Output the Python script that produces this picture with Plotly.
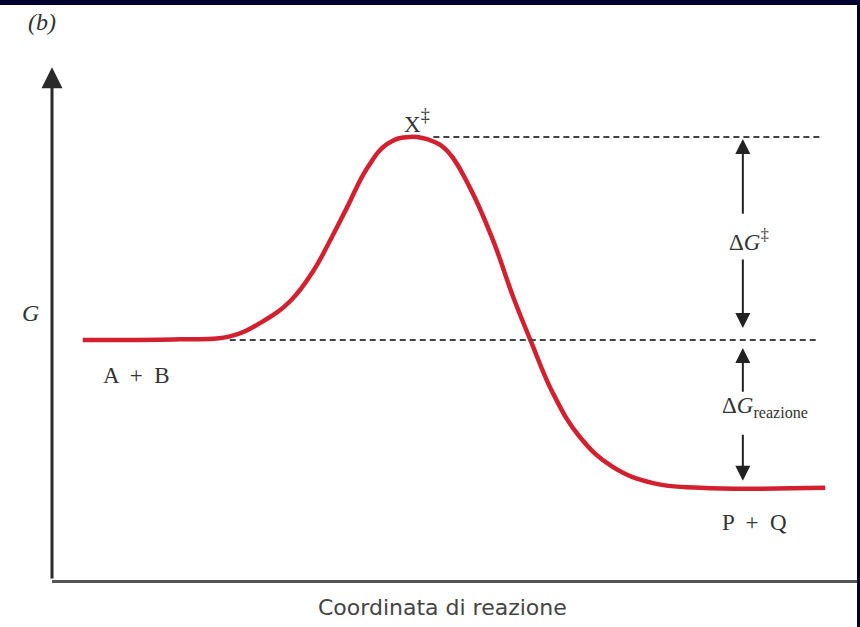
import plotly.graph_objects as go

# Free-energy profile along the reaction coordinate (arbitrary units)
reaction_coord = [0.38, 1.58, 2.20, 2.61, 2.95, 3.23, 3.44, 3.65, 3.90, 4.15, 4.43,
                  4.72, 4.89, 5.17, 5.46, 5.71, 5.92, 6.20, 6.53, 6.94, 7.44, 8.02, 9.57]
free_energy = [4.14, 4.15, 4.20, 4.46, 4.81, 5.32, 5.85, 6.42, 7.10, 7.52, 7.64,
               7.56, 7.40, 6.77, 5.85, 4.87, 4.14, 3.22, 2.47, 1.95, 1.67, 1.59, 1.59]

# Reference levels
G_reactants = 4.14
G_transition = 7.64
G_products = 1.59

# Horizontal extent of the guide lines and the position of the ΔG arrows
guide_top_x = [4.72, 9.50]
guide_mid_x = [2.20, 9.50]
arrow_x = 8.55
y_axis_top = 8.84

RED = "#d3202e"
INK = "#333333"
NAVY = "#01012f"
SERIF = "Liberation Serif, Times New Roman, serif"

fig = go.Figure()

fig.add_trace(go.Scatter(
    x=reaction_coord, y=free_energy, mode="lines",
    line=dict(color=RED, width=4.5, shape="spline", smoothing=1.2),
    hoverinfo="skip", showlegend=False,
))

# Dashed guide lines at the transition-state and reactant levels
fig.add_trace(go.Scatter(
    x=guide_top_x, y=[G_transition, G_transition], mode="lines",
    line=dict(color="#444444", width=2, dash="6px,4px"),
    hoverinfo="skip", showlegend=False,
))
fig.add_trace(go.Scatter(
    x=guide_mid_x, y=[G_reactants, G_reactants], mode="lines",
    line=dict(color="#444444", width=2, dash="6px,4px"),
    hoverinfo="skip", showlegend=False,
))

annotations = []

def arrow(x, y_tail, y_tip, standoff, width=2, size=1.5, color="#222222"):
    annotations.append(dict(
        x=x, y=y_tip, ax=x, ay=y_tail, xref="x", yref="y", axref="x", ayref="y",
        text="", showarrow=True, arrowhead=2, arrowsize=size, arrowwidth=width,
        arrowcolor=color, standoff=standoff,
    ))

# ΔG‡ arrows (between reactants and transition state)
arrow(arrow_x, 6.29, G_transition, 2)
arrow(arrow_x, 5.55, G_reactants, 12)
# ΔG reazione arrows (between reactants and products)
arrow(arrow_x, 3.22, G_reactants, 8)
arrow(arrow_x, 2.53, G_products, 7)
# Vertical axis with arrowhead
arrow(0, 0, y_axis_top, 0, width=3, size=1.4, color="#2a2a2a")

def label(x, y, text, size=22, family=SERIF, color=INK, ref="x"):
    annotations.append(dict(
        x=x, y=y, xref=ref, yref=ref.replace("x", "y"), text=text, showarrow=False,
        font=dict(family=family, size=size, color=color),
        xanchor="center", yanchor="middle",
    ))

# Labels in the margins are placed in paper coordinates
label(-0.0124, 0.962, "<i>(b)</i>", size=24, ref="paper")
label(-0.0272, 0.460, "<i>G</i>", size=24, ref="paper")
label(0.4827, -0.0466, "Coordinata di reazione", size=22,
      family="DejaVu Sans, Verdana, sans-serif", color="#444444", ref="paper")

label(1.05, 3.52, "A  +  B", size=23)
label(4.52, 7.92, "X<span style='font-size:26px'><sup>‡</sup></span>", size=23)
label(8.62, 5.87, "Δ<i>G</i><span style='font-size:24px'><sup>‡</sup></span>", size=23)
label(8.82, 2.98, "Δ<i>G</i><sub>reazione</sub>", size=23)
label(8.70, 1.00, "P  +  Q", size=23)

# Dark frame along the top and right edges
shapes = [
    dict(type="rect", xref="paper", yref="paper", x0=-0.1, x1=1.05,
         y0=1 - 5 / 580, y1=1.05, fillcolor=NAVY, line=dict(width=0), layer="above"),
    dict(type="rect", xref="paper", yref="paper", x0=805 / 808, x1=1.05,
         y0=-0.2, y1=1.05, fillcolor=NAVY, line=dict(width=0), layer="above"),
]

fig.update_layout(
    width=860, height=627,
    margin=dict(l=52, r=0, t=0, b=47),
    paper_bgcolor="white", plot_bgcolor="white",
    xaxis=dict(range=[0, 10], showgrid=False, zeroline=False, showticklabels=False,
               ticks="", showline=True, linecolor="#555555", linewidth=3, fixedrange=True),
    yaxis=dict(range=[0, 10], showgrid=False, zeroline=False, showticklabels=False,
               ticks="", showline=False, fixedrange=True),
    annotations=annotations, shapes=shapes, showlegend=False,
)

fig.write_html("out.html")
